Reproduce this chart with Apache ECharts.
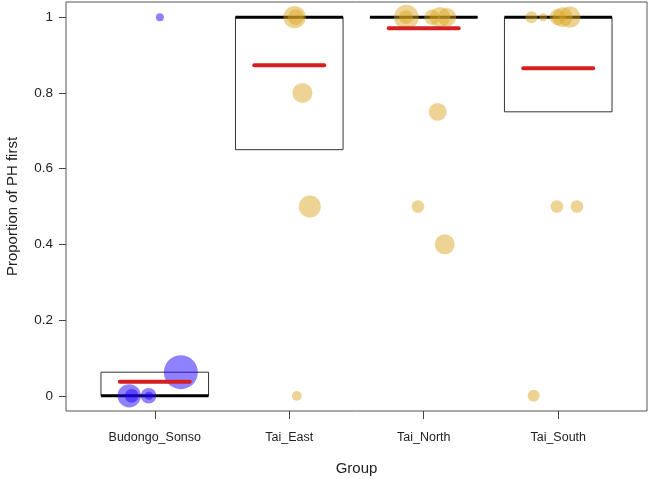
<!DOCTYPE html>
<html>
<head>
<meta charset="utf-8">
<script src="https://cdn.jsdelivr.net/npm/echarts@6/dist/echarts.min.js"></script>
<style>html,body{margin:0;padding:0;background:#fff}#c{width:650px;height:479px}</style>
</head>
<body>
<div id="c"></div>
<script>
// ---- data ----
const groups = ['Budongo_Sonso', 'Tai_East', 'Tai_North', 'Tai_South'];
const yTicks = [0, 0.2, 0.4, 0.6, 0.8, 1];
const boxLower = [0, 0.65, 1, 0.75];
const boxUpper = [0.0625, 1, 1, 1];
const medians = [0, 1, 1, 1];
const means = [0.037, 0.873, 0.971, 0.865];

// Budongo_Sonso points (jittered x, proportion, number of trials)
const budongoX = [1.038, 0.810, 0.828, 0.954, 0.957, 1.194];
const budongoY = [1, 0, 0, 0, 0, 0.0625];
const budongoN = [4, 34, 12, 15, 4, 72];

// Tai points
const taiX = [2.040, 2.049, 2.098, 2.153, 2.056,
              2.871, 2.868, 3.061, 3.121, 3.173, 2.957, 3.156, 3.104,
              3.801, 3.888, 3.995, 4.032, 4.087, 3.990, 4.139, 3.817];
const taiY = [1, 1, 0.8, 0.5, 0,
              1, 1, 1, 1, 1, 0.5, 0.4, 0.75,
              1, 1, 1, 1, 1, 0.5, 0.5, 0];
const taiN = [31, 16, 25, 30, 6,
              38, 12, 15, 26, 21, 10, 25, 20,
              9, 4, 16, 25, 28, 10, 10, 9];

// ---- chart ----
const chart = echarts.init(document.getElementById('c'), null, {renderer: 'canvas'});
const FONT = 'Liberation Sans, Arial, sans-serif';
const sizeOf = n => 4 * Math.sqrt(n);

const pts = (xs, ys, ns) => xs.map((x, i) => [x, ys[i], ns[i]]);
const boxData = groups.map((g, i) => [i + 1, boxLower[i], boxUpper[i], medians[i]]);
const meanData = groups.map((g, i) => [i + 1, means[i]]);

chart.setOption({
  animation: false,
  backgroundColor: '#fff',
  grid: {left: 66, right: 3, top: 2, bottom: 68, containLabel: false, outerBoundsMode: 'none',
         show: true, borderColor: '#555', borderWidth: 1},
  xAxis: {
    type: 'value', min: 0.34, max: 4.66,
    name: 'Group', nameLocation: 'middle', nameGap: 50,
    nameTextStyle: {fontFamily: FONT, fontSize: 15, color: '#222'},
    axisLine: {show: false, onZero: false},
    splitLine: {show: false},
    axisTick: {show: true, inside: false, length: 8, customValues: [1, 2, 3, 4], lineStyle: {color: '#444'}},
    axisLabel: {customValues: [1, 2, 3, 4], margin: 20, fontFamily: FONT, fontSize: 12.5, color: '#222',
      formatter: v => groups[Math.round(v) - 1]}
  },
  yAxis: {
    type: 'value', min: -0.04, max: 1.04,
    name: 'Proportion of PH first', nameLocation: 'middle', nameGap: 46, nameRotate: 90,
    nameTextStyle: {fontFamily: FONT, fontSize: 15, color: '#222'},
    axisLine: {show: false, onZero: false},
    splitLine: {show: false},
    axisTick: {show: true, inside: false, length: 7, customValues: yTicks, lineStyle: {color: '#444'}},
    axisLabel: {customValues: yTicks, margin: 13, fontFamily: FONT, fontSize: 13.5, color: '#222',
      formatter: v => String(Math.round(v * 10) / 10)}
  },
  series: [
    {
      type: 'custom', z: 1, data: boxData,
      renderItem: (params, api) => {
        const c = api.value(0), lo = api.value(1), hi = api.value(2), md = api.value(3);
        const p1 = api.coord([c - 0.4, hi]);
        const p2 = api.coord([c + 0.4, lo]);
        const m1 = api.coord([c - 0.4, md]);
        const m2 = api.coord([c + 0.4, md]);
        return {type: 'group', children: [
          {type: 'rect', shape: {x: p1[0], y: p1[1], width: p2[0] - p1[0], height: p2[1] - p1[1]},
           style: {fill: 'none', stroke: '#333', lineWidth: 1}},
          {type: 'line', shape: {x1: m1[0], y1: m1[1], x2: m2[0], y2: m2[1]},
           style: {stroke: '#000', lineWidth: 3}}
        ]};
      }
    },
    {
      type: 'scatter', z: 2, data: pts(budongoX, budongoY, budongoN),
      symbolSize: v => sizeOf(v[2]),
      itemStyle: {color: 'rgba(30,0,255,0.62)'}
    },
    {
      type: 'scatter', z: 2, data: pts(taiX, taiY, taiN),
      symbolSize: v => sizeOf(v[2]),
      itemStyle: {color: 'rgba(218,165,32,0.6)'}
    },
    {
      type: 'custom', z: 3, data: meanData,
      renderItem: (params, api) => {
        const c = api.value(0), m = api.value(1);
        const a = api.coord([c - 0.26, m]);
        const b = api.coord([c + 0.26, m]);
        return {type: 'line', shape: {x1: a[0], y1: a[1], x2: b[0], y2: b[1]},
          style: {stroke: '#d42020', lineWidth: 4, lineCap: 'round'}};
      }
    }
  ]
});
</script>
</body>
</html>
